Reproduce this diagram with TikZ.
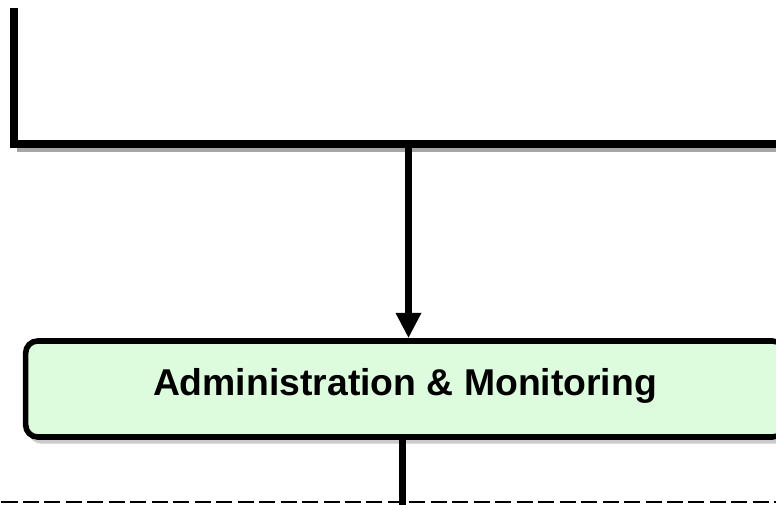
\documentclass[tikz,border=0pt]{standalone}
\usepackage{fontspec}
\setmainfont{Liberation Sans}
\usetikzlibrary{arrows.meta,shadows}

\tikzset{
  bus/.style={line width=5.3pt, line join=miter},
  busshadow/.style={line width=3pt, color=black!35},
  stage/.style={draw, line width=4.2pt, rounded corners=9pt,
    fill={rgb,255:red,221;green,252;blue,221},
    minimum width=569pt, minimum height=72pt, text depth=10.4pt,
    font=\bfseries\fontsize{28}{33}\selectfont},
  feed/.style={line width=5.6pt, -{Triangle[width=18pt,length=19pt]}},
  link/.style={line width=5.6pt},
  divider/.style={line width=1.9pt, dash pattern=on 12pt off 4.1pt},
}

\begin{document}
\begin{tikzpicture}[x=0.75pt,y=0.75pt,yscale=-1,xscale=1]
\useasboundingbox (0,0) rectangle (776,505);
\clip (0,0) rectangle (776,505);

%Bus at the top
\coordinate (top) at (14,8);
\coordinate (corner) at (14,144);
\coordinate (busend) at (800,144);
\coordinate (tap) at (408.5,144);
% shadow first, so the bus covers it
\draw [busshadow] (17,150) -- (800,150);
\draw [bus] (top) -- (corner) -- (busend);

% Stage Node
\node [stage, drop shadow={shadow xshift=2.5pt, shadow yshift=-5pt, opacity=0.45, fill=black!45}] (admin) at (405,389) {Administration \& Monitoring};

%Arrow into the stage
\draw [feed] (tap) -- (tap |- admin.north);

%Dashed separator
\coordinate (dleft) at (1.5,502);
\coordinate (dright) at (800,502);
\draw [divider] (dleft) -- (dright);

%Line out of the stage
\coordinate (exit) at (402.5,510);
\draw [link] (admin.south -| exit) -- (exit);

\end{tikzpicture}
\end{document}
